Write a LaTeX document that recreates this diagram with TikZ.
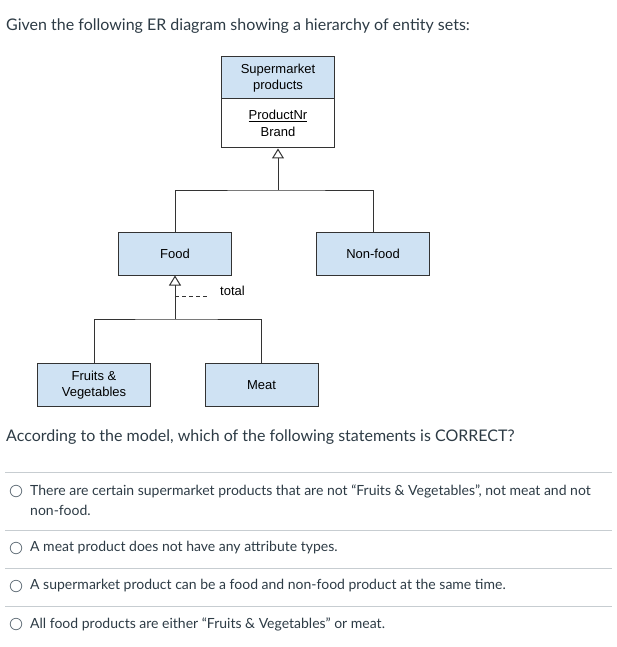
\documentclass[tikz,border=0pt]{standalone}
\usepackage{fontspec}
\setmainfont{Lato}
\newfontfamily\diag{Liberation Sans}
\usetikzlibrary{arrows.meta}
\definecolor{txt}{HTML}{2D3B45}
\definecolor{ent}{HTML}{CFE2F3}
\definecolor{edge}{HTML}{333333}
\definecolor{sep}{HTML}{C7CDD1}
\definecolor{radio}{HTML}{6B7780}
\tikzset{
  entity/.style={draw=edge, line width=1pt, fill=ent, minimum width=113pt, minimum height=43pt, inner sep=0pt, align=center, font=\diag\fontsize{13}{16}\selectfont, text=black},
  attrs/.style={draw=edge, line width=1pt, fill=white, minimum width=113pt, minimum height=49pt, inner sep=0pt, align=center, font=\diag\fontsize{13}{17}\selectfont, text=black},
  link/.style={draw=edge, line width=1pt},
  isa/.style={link, -{Triangle[open, width=12pt, length=10pt, line width=1pt]}},
  qtext/.style={font=\fontsize{16}{19}\selectfont, text=txt, anchor=west, inner sep=0pt},
  otext/.style={font=\fontsize{14}{18}\selectfont, text=txt, anchor=west, inner sep=0pt},
  seprule/.style={draw=sep, line width=0.9pt},
  radiob/.style={draw=radio, line width=0.8pt, circle, minimum size=11.5pt, inner sep=0pt}
}
\begin{document}
\begin{tikzpicture}[x=1pt, y=-1pt]
\useasboundingbox (0,0) rectangle (617,647);
\node[qtext] (title) at (6,26) {Given the following ER diagram showing a hierarchy of entity sets:};

% superclass
\node[entity, minimum height=42pt] (sph) at (278,78) {Supermarket\\products};
\node[attrs] (spa) at (278,123.5) {\underline{ProductNr}\\Brand};

\node[entity] (food) at (175,253.5) {Food};
\node[entity] (nonfood) at (373,253.5) {Non-food};
\node[entity] (fv) at (94,385) {Fruits \&\\Vegetables};
\node[entity] (meat) at (261.5,385) {Meat};

\coordinate (j1) at (278,190);
\coordinate (j2) at (175,319);
\draw[link] (food.north) |- (j1) -| (nonfood.north);
\draw[isa] (j1) -- (spa.south);
\draw[link] (fv.north) |- (j2) -| (meat.north);
\draw[isa] (j2) -- (food.south);
\coordinate (t0) at (175,296);
\coordinate (t1) at (208,296);
\draw[draw=edge, line width=0.9pt, dash pattern=on 4pt off 3pt] (t0) -- (t1);
\node[anchor=west, inner sep=0pt, font=\diag\fontsize{13}{16}\selectfont] (total) at (220,291) {total};

\node[qtext] (question) at (6,437) {According to the model, which of the following statements is CORRECT?};

\coordinate (s1a) at (5,472); \coordinate (s1b) at (612,472);
\coordinate (s2a) at (5,530); \coordinate (s2b) at (612,530);
\coordinate (s3a) at (5,568); \coordinate (s3b) at (612,568);
\coordinate (s4a) at (5,606); \coordinate (s4b) at (612,606);
\draw[seprule] (s1a) -- (s1b);
\draw[seprule] (s2a) -- (s2b);
\draw[seprule] (s3a) -- (s3b);
\draw[seprule] (s4a) -- (s4b);

\node[radiob] (r1) at (16,491) {};
\node[otext] (o1a) at (30,491) {There are certain supermarket products that are not “Fruits \& Vegetables”, not meat and not};
\node[otext] (o1b) at (30,510) {non-food.};
\node[radiob] (r2) at (16,548) {};
\node[otext] (o2) at (30,548) {A meat product does not have any attribute types.};
\node[radiob] (r3) at (16,586) {};
\node[otext] (o3) at (30,586) {A supermarket product can be a food and non-food product at the same time.};
\node[radiob] (r4) at (16,624) {};
\node[otext] (o4) at (30,624) {All food products are either “Fruits \& Vegetables” or meat.};
\end{tikzpicture}
\end{document}
